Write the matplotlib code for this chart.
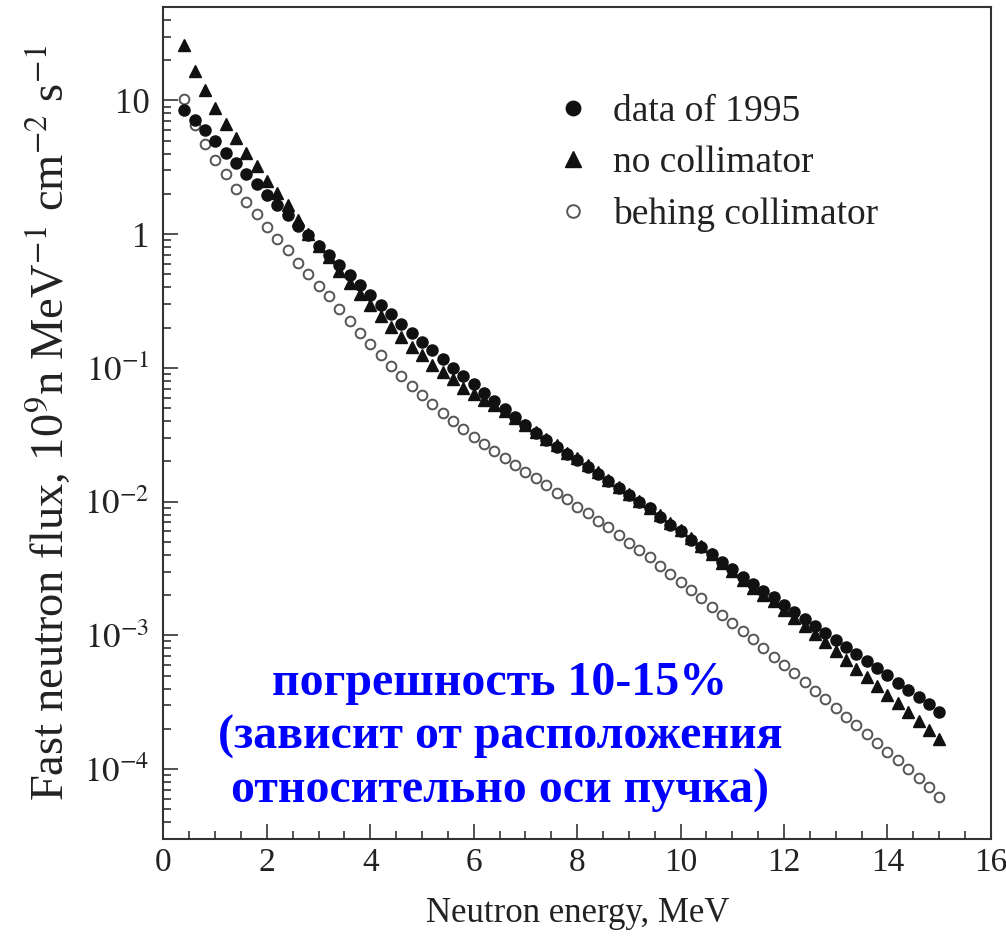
import numpy as np
import matplotlib
matplotlib.use("Agg")
import matplotlib.pyplot as plt
from matplotlib.ticker import MultipleLocator, LogLocator, NullFormatter

# энергия нейтронов, МэВ (шаг 0.2)
energy = np.round(np.arange(0.4, 15.01, 0.2), 1)

data_1995 = [8.51, 7.18, 5.97, 4.94, 4.06, 3.40, 2.83, 2.38, 1.98, 1.66, 1.38, 1.16,
             0.98, 0.82, 0.695, 0.585, 0.492, 0.414, 0.349, 0.297, 0.252, 0.214, 0.184, 0.157,
             0.136, 0.116, 0.100, 0.0865, 0.0753, 0.0653, 0.0569, 0.0497, 0.0430, 0.0372, 0.0327, 0.0288,
             0.0256, 0.0226, 0.0204, 0.0183, 0.0162, 0.0143, 0.0126, 0.0112, 0.00995, 0.00889, 0.00767, 0.00667,
             0.00600, 0.00521, 0.00459, 0.00403, 0.00355, 0.00311, 0.00274, 0.00244, 0.00215, 0.00192, 0.00169, 0.00150,
             0.00133, 0.00118, 0.00104, 0.000925, 0.000813, 0.000721, 0.000641, 0.000575, 0.000505, 0.000442, 0.000389, 0.000347,
             0.000306, 0.000269]

no_collimator = [26.2, 16.6, 11.9, 8.81, 6.62, 5.26, 4.04, 3.21, 2.52, 2.04, 1.66, 1.27,
                 1.00, 0.82, 0.675, 0.530, 0.431, 0.359, 0.294, 0.243, 0.202, 0.170, 0.143, 0.124,
                 0.106, 0.0931, 0.0822, 0.0713, 0.0635, 0.0573, 0.0525, 0.0473, 0.0422, 0.0376, 0.0333, 0.0295,
                 0.0263, 0.0233, 0.0211, 0.0188, 0.0166, 0.0146, 0.0128, 0.0114, 0.0101, 0.00902, 0.00794, 0.00692,
                 0.00610, 0.00531, 0.00462, 0.00403, 0.00348, 0.00301, 0.00260, 0.00226, 0.00200, 0.00180, 0.00154, 0.00134,
                 0.00117, 0.00103, 0.000885, 0.000764, 0.000658, 0.000565, 0.000490, 0.000420, 0.000361, 0.000312, 0.000266, 0.000229,
                 0.000195, 0.000167]

behind_collimator = [10.2, 6.50, 4.74, 3.56, 2.80, 2.19, 1.74, 1.41, 1.13, 0.914, 0.757, 0.612,
                     0.501, 0.409, 0.343, 0.277, 0.224, 0.182, 0.150, 0.125, 0.104, 0.0867, 0.0735, 0.0624,
                     0.0533, 0.0461, 0.0399, 0.0348, 0.0305, 0.0272, 0.0239, 0.0213, 0.0189, 0.0168, 0.0149, 0.0133,
                     0.0117, 0.0104, 0.00914, 0.00818, 0.00721, 0.00641, 0.00561, 0.00492, 0.00437, 0.00386, 0.00331, 0.00288,
                     0.00250, 0.00218, 0.00189, 0.00163, 0.00142, 0.00123, 0.00107, 0.000933, 0.000809, 0.000690, 0.000598, 0.000519,
                     0.000447, 0.000387, 0.000332, 0.000284, 0.000246, 0.000213, 0.000183, 0.000157, 0.000135, 0.000117, 0.0000995, 0.0000851,
                     0.0000729, 0.0000615]

series_labels = ["data of 1995", "no collimator", "behing collimator"]
ytick_values = [1e-4, 1e-3, 1e-2, 1e-1, 1, 10]
ytick_labels = [r"$10^{-4}$", r"$10^{-3}$", r"$10^{-2}$", r"$10^{-1}$", "1", "10"]
xtick_values = [0, 2, 4, 6, 8, 10, 12, 14, 16]

plt.rcParams["font.family"] = ["Liberation Serif", "DejaVu Serif"]
plt.rcParams["mathtext.fontset"] = "stix"

fig = plt.figure(figsize=(10.06, 9.44), dpi=100)
ax = fig.add_axes([0.1625, 0.1112, 0.8225, 0.8814])

axis_color = "#333333"
text_color = "#222222"

ax.plot(energy, data_1995, "o", color="#111111", ms=8, mec="#111111", label=series_labels[0], zorder=3)
ax.plot(energy, no_collimator, "^", color="#111111", ms=8.5, mec="#111111", label=series_labels[1], zorder=2)
ax.plot(energy, behind_collimator, "o", mfc="white", mec="#555555", mew=1.4, ms=7,
        label=series_labels[2], zorder=2)

ax.set_yscale("log")
ax.set_xlim(0, 16)
ax.set_ylim(3e-5, 50)

ax.set_xticks(xtick_values)
ax.xaxis.set_minor_locator(MultipleLocator(0.5))
ax.set_yticks(ytick_values)
ax.set_yticklabels(ytick_labels)
ax.yaxis.set_minor_locator(LogLocator(base=10, subs=np.arange(2, 10)))
ax.yaxis.set_minor_formatter(NullFormatter())

ax.tick_params(which="both", direction="in", top=False, right=False, color=axis_color,
               width=1.2, labelcolor=text_color)
ax.tick_params(which="major", length=11)
ax.tick_params(which="minor", length=6)
ax.tick_params(axis="x", pad=6, labelsize=24)
ax.tick_params(axis="y", pad=10, labelsize=25)
for sp in ax.spines.values():
    sp.set_color(axis_color)
    sp.set_linewidth(1.5)

ax.set_xlabel("Neutron energy, MeV", fontsize=25, color=text_color, labelpad=14)
ax.set_ylabel(r"Fast neutron flux, 10$^9$n MeV$^{-1}$ cm$^{-2}$ s$^{-1}$", fontsize=33.5,
              color=text_color, labelpad=7)

leg = ax.legend(loc="upper left", bbox_to_anchor=(0.45, 0.917), frameon=False, fontsize=27,
                handlelength=1.0, handletextpad=0.55, labelspacing=0.44, borderpad=0,
                markerscale=1.3)
for t in leg.get_texts():
    t.set_color(text_color)

fig.text(0.497, 0.219, "погрешность 10-15%\n(зависит от расположения\nотносительно оси пучка)",
         ha="center", va="center", multialignment="center", fontsize=34.5, fontweight="bold",
         color="#0000ff", linespacing=1.28)

fig.savefig("out.png", dpi=100)
